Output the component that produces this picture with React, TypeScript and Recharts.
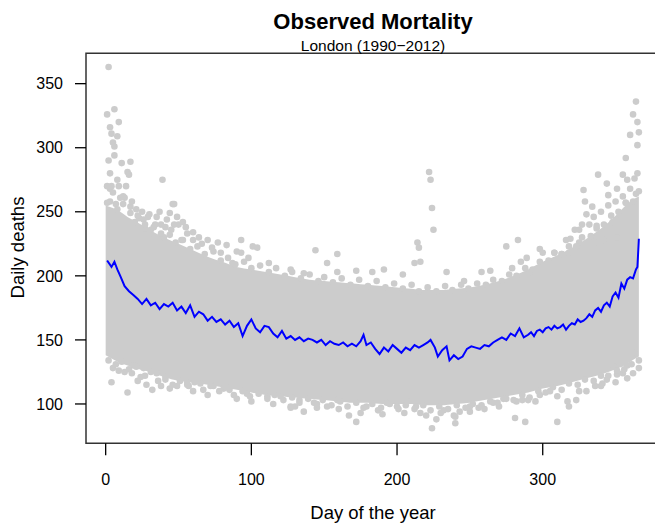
import React from "react";
import {
  ComposedChart,
  Area,
  Line,
  Scatter,
  XAxis,
  YAxis,
  ReferenceArea,
} from "recharts";

// ---- data ----
// dense core of the grey cloud of daily deaths: lower / upper edge by day of year
const bandDays = [0, 5, 10, 15, 20, 30, 40, 50, 60, 70, 80, 90, 100, 110, 120, 130, 140, 150, 160, 170, 180, 190, 200, 210, 220, 230, 240, 250, 260, 270, 280, 290, 300, 310, 320, 330, 340, 350, 356, 360, 366];
const bandLow = [138, 135, 132, 130, 128, 125, 121, 118, 117, 115, 113, 111, 109, 107, 106, 105, 104, 103, 102, 101, 101, 100, 100, 100, 99, 99, 100, 101, 103, 105, 107, 109, 112, 114, 117, 120, 123, 127, 130, 133, 137];
const bandHigh = [255, 253, 250, 246, 243, 236, 230, 225, 220, 215, 211, 207, 205, 203, 201, 199, 197, 196, 195, 194, 193, 192, 191, 190, 189, 189, 190, 191, 193, 196, 200, 205, 211, 216, 222, 229, 237, 247, 254, 258, 262];

// mean daily deaths (blue line)
const meanDays = [1, 4, 6, 8, 10, 13, 16, 19, 22, 25, 28, 31, 34, 37, 40, 43, 46, 49, 52, 55, 58, 61, 64, 67, 70, 73, 76, 79, 82, 85, 88, 91, 94, 97, 100, 103, 106, 109, 112, 115, 118, 121, 124, 127, 130, 133, 136, 139, 142, 145, 148, 151, 154, 157, 160, 163, 166, 169, 172, 175, 177, 179, 182, 185, 188, 191, 194, 197, 200, 203, 206, 209, 212, 215, 218, 221, 223, 226, 228, 231, 234, 236, 239, 242, 245, 248, 251, 254, 257, 260, 263, 266, 269, 272, 275, 278, 281, 284, 287, 290, 292, 294, 296, 298, 300, 302, 304, 306, 308, 310, 312, 314, 316, 318, 320, 322, 324, 326, 328, 330, 332, 334, 336, 338, 340, 342, 344, 346, 348, 350, 352, 354, 356, 358, 360, 362, 364, 365, 366];
const meanDeaths = [212, 207, 211, 205, 200, 192, 188, 185, 182, 178, 182, 177, 179, 174, 178, 176, 179, 173, 176, 171, 177, 168, 172, 170, 165, 168, 164, 166, 162, 165, 160, 163, 153, 161, 166, 159, 156, 161, 160, 155, 152, 157, 151, 153, 150, 152, 149, 151, 150, 148, 150, 146, 149, 147, 146, 148, 145, 147, 145, 149, 154, 146, 148, 143, 139, 144, 141, 146, 143, 140, 144, 142, 146, 144, 146, 148, 150, 144, 137, 142, 145, 134, 138, 135, 137, 143, 145, 144, 143, 146, 145, 148, 150, 152, 150, 155, 153, 159, 152, 154, 156, 153, 157, 158, 156, 159, 160, 158, 161, 159, 160, 162, 158, 161, 163, 162, 166, 164, 165, 167, 170, 168, 173, 175, 172, 177, 179, 176, 184, 187, 183, 194, 190, 197, 199, 198, 205, 207, 229];

// individual grey days outside / at the edge of the dense core: [day, deaths]
const cloudDots: [number, number][] = [
  // upper outliers
  [2, 363], [1, 326], [6, 330], [9, 320], [3, 316], [4, 311], [8, 309], [5, 304], [6, 301], [6, 294], [2, 290], [11, 288], [17, 289],
  [3, 280], [15, 281], [16, 279], [39, 275], [4, 270], [9, 270], [14, 270], [3, 268], [10, 261], [13, 261], [1, 257], [7, 256], [17, 254],
  [46, 256], [47, 256], [37, 250], [44, 249], [49, 246], [53, 242], [29, 246], [23, 245], [20, 242], [34, 240], [27, 237], [31, 236],
  [41, 238], [47, 240], [56, 233], [40, 230], [52, 228], [32, 228], [66, 225], [73, 222], [93, 228], [101, 223], [79, 218], [90, 219],
  [98, 214], [93, 218], [87, 210], [112, 210], [159, 217], [127, 205], [136, 202], [159, 203], [183, 203], [214, 226], [215, 222],
  [212, 210], [216, 211], [222, 281], [223, 275], [224, 253], [225, 236], [234, 203], [275, 223], [283, 228], [298, 221], [279, 206],
  [285, 211], [292, 203], [308, 218], [313, 217], [318, 218], [325, 226], [319, 229], [328, 267], [338, 279], [344, 272], [351, 268],
  [355, 279], [358, 275], [365, 280], [329, 258], [334, 254], [345, 263], [357, 257], [364, 264], [327, 240], [332, 240], [337, 237],
  [348, 242], [353, 248], [337, 226], [342, 228], [351, 230], [364, 336], [362, 326], [365, 320], [366, 312], [360, 310], [365, 302],
  [357, 292], [363, 276], [104, 222], [144, 220], [152, 210], [172, 204], [191, 205], [204, 201], [246, 196], [258, 203], [264, 204],
  [21, 252], [25, 250], [30, 248], [35, 246], [42, 244], [50, 240], [55, 238], [60, 234], [64, 230], [70, 228], [77, 226], [83, 224],
  [60, 228], [45, 236], [38, 240], [26, 244], [12, 262], [18, 258], [5, 265], [8, 275], [1, 270], [330, 248], [335, 246], [340, 250],
  [345, 255], [350, 258], [355, 262], [360, 268], [322, 236], [316, 228], [325, 236], [300, 218], [289, 214],
  // lower outliers
  [4, 117], [15, 109], [9, 126], [13, 125], [22, 118], [28, 115], [32, 111], [41, 119], [49, 114], [56, 115], [19, 130], [26, 128],
  [35, 124], [56, 117], [65, 116], [74, 114], [81, 112], [85, 111], [97, 108], [111, 106], [120, 106], [127, 98], [127, 97], [136, 94],
  [133, 103], [143, 101], [152, 98], [159, 103], [167, 91], [172, 86], [179, 98], [187, 95], [193, 101], [200, 98], [207, 102],
  [213, 98], [216, 93], [224, 81], [227, 88], [232, 95], [239, 91], [240, 85], [243, 94], [250, 98], [240, 90], [256, 97], [266, 101],
  [273, 104], [281, 89], [288, 86], [310, 86], [282, 102], [286, 103], [290, 103], [298, 107], [305, 110], [317, 102], [323, 103],
  [318, 98], [330, 110], [336, 114], [341, 116], [344, 119], [351, 123], [355, 124], [362, 124], [363, 140], [349, 129], [358, 130],
  [5, 128], [18, 124], [24, 121], [38, 114], [44, 112], [60, 110], [70, 107], [90, 104], [100, 102], [115, 100], [130, 98], [145, 97],
  [160, 96], [175, 93], [190, 92], [205, 93], [220, 91], [230, 93], [250, 94], [260, 96], [270, 98], [295, 102], [310, 106], [325, 110],
  [340, 114], [350, 117], [358, 120], [366, 128],
  // upper edge of the dense core
  [3, 258], [8, 252], [12, 256], [17, 249], [22, 247], [27, 240], [33, 238], [38, 233], [44, 232], [48, 226], [53, 228], [58, 221],
  [63, 223], [68, 217], [74, 219], [79, 212], [84, 214], [89, 209], [95, 211], [100, 206], [106, 208], [112, 203], [117, 206],
  [123, 200], [128, 203], [134, 198], [140, 201], [146, 196], [150, 199], [156, 195], [162, 198], [168, 193], [174, 197], [180, 192],
  [186, 196], [192, 191], [198, 194], [204, 190], [210, 193], [215, 188], [221, 191], [227, 188], [233, 192], [238, 189], [244, 193],
  [249, 190], [255, 194], [261, 193], [266, 197], [272, 196], [277, 201], [282, 200], [288, 206], [293, 205], [298, 211], [304, 212],
  [308, 218], [313, 217], [318, 223], [323, 223], [327, 230], [333, 231], [337, 239], [342, 240], [347, 247], [352, 250], [357, 257],
  [362, 258], [366, 266],
  // lower edge of the dense core
  [2, 134], [7, 131], [11, 133], [16, 127], [21, 129], [27, 122], [31, 125], [36, 118], [41, 121], [46, 115], [51, 118], [57, 114],
  [61, 117], [67, 111], [72, 114], [78, 110], [83, 113], [88, 107], [94, 110], [99, 106], [105, 108], [111, 104], [116, 107],
  [122, 103], [128, 105], [133, 101], [139, 104], [145, 100], [149, 103], [155, 99], [161, 102], [166, 98], [172, 101], [177, 97],
  [183, 100], [189, 97], [195, 100], [201, 96], [206, 99], [212, 96], [218, 99], [223, 95], [229, 98], [235, 96], [241, 99], [247, 97],
  [252, 100], [258, 99], [264, 102], [269, 101], [275, 104], [280, 103], [286, 107], [291, 105], [297, 110], [302, 109], [307, 113],
  [313, 111], [318, 116], [324, 115], [329, 119], [335, 118], [340, 122], [345, 122], [351, 126], [356, 127], [361, 131], [366, 134],
];

const xTicks = [0, 100, 200, 300];
const yTicks = [100, 150, 200, 250, 300, 350];

// ---- tables built from the arrays ----
const bandData = bandDays.map((d, i) => ({ day: d, range: [bandLow[i], bandHigh[i]] }));
const meanData = meanDays.map((d, i) => ({ day: d, deaths: meanDeaths[i] }));
const dotData = cloudDots.map(([d, v]) => ({ day: d, deaths: v }));

const FONT = "'Liberation Sans', Arial, Helvetica, sans-serif";
const X_DOMAIN: [number, number] = [-13.5, 380.5];
const Y_DOMAIN: [number, number] = [69.3, 373.7];

const Dot = (p: any) => <circle cx={p.cx} cy={p.cy} r={3.3} fill="#cccccc" />;

export default function App() {
  return (
    <div
      style={{
        position: "fixed",
        left: 0,
        top: 0,
        width: 655,
        height: 523,
        overflow: "hidden",
        background: "#fff",
      }}
    >
      <ComposedChart
        width={670}
        height={523}
        data={bandData}
        margin={{ top: 53.3, right: 10, bottom: 19.7, left: 26 }}
      >
        <XAxis
          dataKey="day"
          type="number"
          domain={X_DOMAIN}
          ticks={xTicks}
          allowDataOverflow
          axisLine={false}
          tickLine={{ stroke: "#000", strokeWidth: 1.3 }}
          tickSize={12}
          tickMargin={18}
          height={60}
          tick={{ fontSize: 16, fill: "#000", fontFamily: FONT }}
        />
        <YAxis
          type="number"
          domain={Y_DOMAIN}
          ticks={yTicks}
          allowDataOverflow
          axisLine={false}
          tickLine={{ stroke: "#000", strokeWidth: 1.3 }}
          tickSize={11}
          tickMargin={12}
          width={60}
          tick={{ fontSize: 16, fill: "#000", fontFamily: FONT }}
        />
        <Area
          dataKey="range"
          type="monotone"
          stroke="none"
          fill="#cccccc"
          fillOpacity={1}
          isAnimationActive={false}
        />
        <Scatter
          data={dotData}
          dataKey="deaths"
          shape={Dot}
          isAnimationActive={false}
        />
        <Line
          data={meanData}
          dataKey="deaths"
          type="linear"
          stroke="#0000ff"
          strokeWidth={2}
          dot={false}
          isAnimationActive={false}
        />
        <ReferenceArea
          x1={X_DOMAIN[0]}
          x2={X_DOMAIN[1]}
          y1={Y_DOMAIN[0]}
          y2={Y_DOMAIN[1]}
          fill="none"
          fillOpacity={0}
          stroke="#333"
          strokeWidth={1.5}
        />
      </ComposedChart>
      <svg
        width={655}
        height={523}
        style={{ position: "absolute", left: 0, top: 0, pointerEvents: "none" }}
      >
        <text x={373} y={21} textAnchor="middle" dominantBaseline="central" fontFamily={FONT} fontWeight="bold" fontSize={22} fill="#000">
          Observed Mortality
        </text>
        <text x={373} y={45} textAnchor="middle" dominantBaseline="central" fontFamily={FONT} fontSize={15.5} fill="#000">
          London (1990−2012)
        </text>
        <text x={373} y={512} textAnchor="middle" dominantBaseline="central" fontFamily={FONT} fontSize={18.5} fill="#000">
          Day of the year
        </text>
        <text
          x={17.5}
          y={247.5}
          textAnchor="middle"
          dominantBaseline="central"
          fontFamily={FONT}
          fontSize={18.5}
          fill="#000"
          transform="rotate(-90 17.5 247.5)"
        >
          Daily deaths
        </text>
      </svg>
    </div>
  );
}
